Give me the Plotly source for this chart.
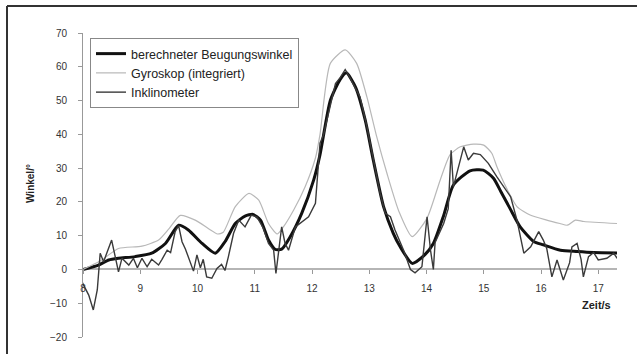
import plotly.graph_objects as go

# ---- data ----
t_calc = [8.0, 8.27, 8.45, 8.62, 8.91, 9.2, 9.44, 9.67, 9.84, 10.08, 10.31, 10.48, 10.66, 10.83,
          10.97, 11.1, 11.24, 11.36, 11.47, 11.62, 11.82, 12.03, 12.14, 12.32, 12.49, 12.6,
          12.76, 12.93, 13.07, 13.25, 13.42, 13.54, 13.75, 13.95, 14.12, 14.3, 14.47, 14.76,
          14.99, 15.17, 15.3, 15.46, 15.64, 15.87, 16.04, 16.34, 16.63, 16.92, 17.33]
v_calc = [0.0, 1.3, 2.8, 3.3, 3.8, 4.8, 7.7, 13.1, 11.7, 7.7, 4.8, 8.2, 13.6, 15.8,
          16.3, 14.6, 8.7, 5.9, 6.0, 9.7, 16.6, 26.5, 34.0, 50.0, 56.2, 58.2,
          54.0, 44.2, 32.4, 18.6, 10.7, 6.7, 1.8, 4.0, 7.7, 16.0, 25.0, 29.2,
          29.4, 27.0, 23.0, 18.0, 12.5, 8.3, 7.3, 5.7, 5.3, 5.0, 4.9]

t_gyro = [8.0, 8.3, 8.62, 9.03, 9.32, 9.5, 9.7, 9.96, 10.2, 10.35, 10.45, 10.66, 10.9, 11.07,
          11.24, 11.39, 11.5, 11.68, 11.88, 12.06, 12.14, 12.32, 12.58, 12.78, 12.96, 13.13,
          13.31, 13.52, 13.75, 14.01, 14.24, 14.41, 14.59, 14.82, 15.0, 15.14, 15.23, 15.4,
          15.58, 15.81, 16.1, 16.33, 16.46, 16.6, 16.75, 17.33]
v_gyro = [0.0, 2.5, 6.2, 6.9, 8.7, 12.0, 16.0, 14.6, 12.0, 10.5, 11.0, 18.6, 22.5, 20.5,
          13.6, 10.5, 12.6, 17.6, 24.5, 33.0, 40.0, 61.0, 65.0, 61.0, 51.0, 39.3,
          28.4, 17.1, 9.7, 15.2, 26.5, 33.9, 36.3, 37.1, 36.8, 34.4, 30.4, 24.0,
          18.6, 16.1, 14.6, 13.6, 13.1, 14.6, 14.2, 13.6]

t_incl = [7.98, 8.1, 8.18, 8.25, 8.3, 8.36, 8.5, 8.62, 8.68, 8.8, 8.88, 8.95, 9.03, 9.12, 9.2,
          9.32, 9.38, 9.47, 9.53, 9.61, 9.67, 9.73, 9.79, 9.87, 9.93, 9.99, 10.05, 10.1, 10.16,
          10.25, 10.34, 10.42, 10.48, 10.54, 10.63, 10.72, 10.83, 10.94, 11.04, 11.15, 11.24,
          11.33, 11.37, 11.42, 11.47, 11.53, 11.59, 11.71, 11.94, 12.06, 12.14,
          12.2, 12.32, 12.41, 12.49, 12.58, 12.64, 12.84, 12.96, 13.1, 13.19, 13.28, 13.37,
          13.45, 13.6, 13.72, 13.8, 13.92, 14.01, 14.07, 14.12, 14.15, 14.3, 14.38, 14.43,
          14.47, 14.65, 14.73, 14.82, 14.94, 15.08, 15.23, 15.35, 15.47, 15.58, 15.7,
          15.82, 15.96, 16.04, 16.1, 16.19, 16.28, 16.39, 16.5, 16.54, 16.63, 16.7, 16.74,
          16.83, 16.92, 17.0, 17.15, 17.27, 17.33]
v_incl = [-3.6, -7.6, -12.0, -6.0, 4.8, 2.3, 8.7, -0.7, 3.3, 1.3, 3.3, 0.5, 3.3, 0.8, 3.0,
          1.3, 3.0, 5.7, 5.0, 11.2, 13.0, 8.2, 6.0, 2.3, -0.5, 4.3, 0.5, 3.0, -2.2,
          -2.6, 0.3, 1.5, -0.3, 3.8, 10.7, 14.6, 12.6, 16.1, 15.5, 12.2, 7.7,
          5.7, -1.2, 5.7, 12.6, 7.7, 5.7, 12.6, 15.6, 19.6, 37.4,
          39.8, 48.2, 55.0, 56.7, 59.2, 57.5, 51.0, 42.2, 30.4, 22.5, 16.6, 15.6,
          11.7, 5.7, 0.0, -1.0, 0.8, 15.6, 5.7, 0.0, 8.0, 13.6, 18.0, 35.3,
          24.5, 36.3, 32.4, 34.4, 34.0, 31.4, 27.4, 24.5, 21.5, 14.6, 4.8,
          6.7, 11.2, 8.7, 6.2, -2.2, 2.8, -3.1, 2.0, 6.7, 7.7, 3.0, -2.2,
          3.8, 5.0, 2.8, 3.3, 4.8, 3.3]

x_ticks = [8, 9, 10, 11, 12, 13, 14, 15, 16, 17]
y_ticks = [-20, -10, 0, 10, 20, 30, 40, 50, 60, 70]

names = ["berechneter Beugungswinkel", "Gyroskop (integriert)", "Inklinometer"]

FONT = "Liberation Sans, Arial, sans-serif"

fig = go.Figure()
fig.add_trace(go.Scatter(x=t_calc, y=v_calc, mode="lines", name=names[0],
                         line=dict(color="#111111", width=3, shape="spline", smoothing=0.6)))
fig.add_trace(go.Scatter(x=t_gyro, y=v_gyro, mode="lines", name=names[1],
                         line=dict(color="#b8b8b8", width=1.2, shape="spline", smoothing=0.6)))
fig.add_trace(go.Scatter(x=t_incl, y=v_incl, mode="lines", name=names[2],
                         line=dict(color="#3a3a3a", width=1.4)))

W, H = 637, 354
ml, mr, mt, mb = 83, 20, 33, 17
pw = W - ml - mr
ph = H - mt - mb

def px_x(p):
    return (p - ml) / pw

def px_y(p):
    return (H - mb - p) / ph

fig.update_layout(
    width=W, height=H,
    margin=dict(l=ml, r=mr, t=mt, b=mb),
    paper_bgcolor="white", plot_bgcolor="white",
    font=dict(family=FONT, size=10, color="#333333"),
    showlegend=True,
    legend=dict(x=px_x(90), y=px_y(38), xanchor="left", yanchor="top",
                bgcolor="white", bordercolor="#888888", borderwidth=1,
                font=dict(family=FONT, size=12.5, color="#222222"),
                tracegroupgap=0, itemwidth=30),
    xaxis=dict(range=[8, 8 + pw / 57.25], tickvals=x_ticks, ticktext=[str(v) for v in x_ticks],
               anchor="free", position=px_y(269.4), showline=False, showgrid=False,
               zeroline=False, ticks="outside", ticklen=4, tickcolor="#999999",
               ticklabelstandoff=6, tickfont=dict(size=10, color="#333333")),
    yaxis=dict(range=[-20, 70], tickvals=y_ticks, showline=True, linecolor="#999999",
               linewidth=1, showgrid=False, zeroline=True, zerolinecolor="#b5b5b5",
               zerolinewidth=2, ticks="outside", ticklen=4, tickcolor="#999999",
               ticklabelstandoff=9, tickfont=dict(size=10, color="#333333")),
    annotations=[
        dict(text="<b>Winkel/°</b>", textangle=-90, xref="paper", yref="paper",
             x=px_x(30), y=px_y(184), xanchor="center", yanchor="middle",
             showarrow=False, font=dict(size=10, color="#222222")),
        dict(text="<b>Zeit/s</b>", xref="paper", yref="paper",
             x=px_x(596), y=px_y(305), xanchor="center", yanchor="middle",
             showarrow=False, font=dict(size=11, color="#222222")),
    ],
    shapes=[
        dict(type="line", xref="paper", yref="paper", x0=px_x(7), x1=px_x(637),
             y0=px_y(6), y1=px_y(6), line=dict(color="#333333", width=2)),
        dict(type="line", xref="paper", yref="paper", x0=px_x(7), x1=px_x(7),
             y0=px_y(6), y1=px_y(354), line=dict(color="#333333", width=2)),
    ],
)

fig.write_html("out.html", config={"displayModeBar": False},
               post_script="document.body.style.margin='0';")
